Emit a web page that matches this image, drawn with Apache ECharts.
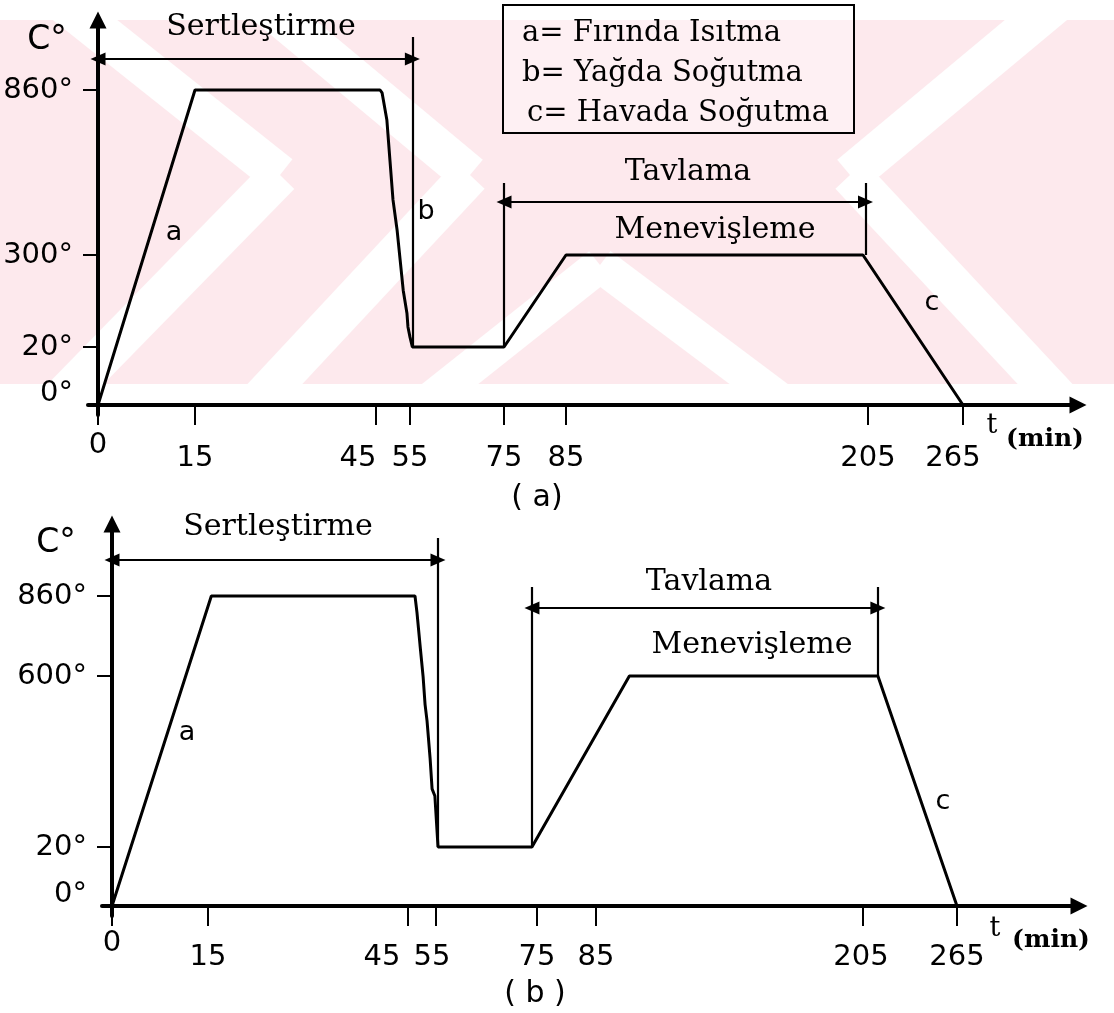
<!DOCTYPE html>
<html><head><meta charset="utf-8">
<script src="https://cdn.jsdelivr.net/npm/echarts@6/dist/echarts.min.js"></script>
<style>html,body{margin:0;padding:0;background:#fff}#c{width:1114px;height:1013px}</style>
</head><body><div id="c"></div>
<script>
// ---------------- DATA ----------------
const timeTicks = [0, 15, 45, 55, 75, 85, 205, 265];
const timeTickLabels = ['0', '15', '45', '55', '75', '85', '205', '265'];
const tempTicksA = [0, 20, 300, 860];
const tempTickLabelsA = ['0°', '20°', '300°', '860°'];
const tempTicksB = [0, 20, 600, 860];
const tempTickLabelsB = ['0°', '20°', '600°', '860°'];
// (a) hardening + low tempering
const timeA = [0, 15, 46.2, 46.8, 48.2, 49.1, 50, 51.2, 52.1, 53, 54.1, 54.4, 55, 55.5, 75, 85, 203, 265];
const tempA = [0, 860, 860, 850, 758, 622, 487, 385, 285, 193, 123, 81, 50, 20, 20, 300, 300, 0];
// (b) hardening + high tempering
const timeB = [0, 15.5, 47.5, 48.2, 49.3, 50.4, 51.1, 51.8, 52.9, 53.6, 54.6, 55.4, 74, 100, 214.5, 265];
const tempB = [0, 860, 860, 807, 700, 597, 503, 448, 320, 217, 193, 20, 20, 600, 600, 0];
// phase brackets (time from/to)
const hardenA = [0, 55.5], annealA = [75, 204];
const hardenB = [0, 55.4], annealB = [74, 214.5];
const legendLines = ['a= Fırında Isıtma', 'b= Yağda Soğutma', 'c= Havada Soğutma'];
const phaseNames = ['Sertleştirme', 'Tavlama', 'Menevişleme'];

// ---------------- LAYOUT (schematic, non-linear axes) ----------------
const L = {
  A: { left: 88, top: 20, xMax: 980, yMax: 385,
       xPos: [0, 97, 278, 312, 406, 468, 770, 865], yPos: [0, 58, 150, 315],
       xShift: [[0, 0], [0, 13], [18, 13], [0, 13], [0, 13], [0, 13], [0, 13], [10, 13]],
       xMargin: 16, bracketY: 346, markTop: 368, annTop: 222, annY: 203 },
  B: { left: 102, top: 524, xMax: 967, yMax: 382,
       xPos: [0, 96, 296, 324, 425, 484, 751, 845], yPos: [0, 59, 230, 310],
       xShift: [[0, 0], [0, 14], [26, 14], [4, 14], [0, 14], [0, 14], [2, 14], [0, 14]],
       xMargin: 13, bracketY: 346, markTop: 368, annTop: 319, annY: 298 }
};

function interp(v, ks, ps) {
  let i = 0;
  while (i < ks.length - 2 && v > ks[i + 1]) i++;
  return ps[i] + (v - ks[i]) / (ks[i + 1] - ks[i]) * (ps[i + 1] - ps[i]);
}

const FONT_SANS = 'DejaVu Sans';
const FONT_SERIF = 'DejaVu Serif';
const TICK_FS = 29;

function axes(idx, lay, yTicks, yLabels) {
  const richX = {};
  timeTickLabels.forEach((t, i) => {
    const s = lay.xShift[i];
    richX['k' + i] = { fontFamily: FONT_SANS, fontSize: TICK_FS, color: '#000',
      padding: [s[1], s[0] * 2, 0, 0] };
  });
  const xAxis = {
    type: 'value', gridIndex: idx, min: -10, max: lay.xMax,
    axisLine: { show: true, onZero: true, symbol: ['none', 'triangle'], symbolSize: [17, 17],
      lineStyle: { color: '#000', width: 4 } },
    axisTick: { show: true, customValues: lay.xPos, length: 20, lineStyle: { color: '#000', width: 2 } },
    axisLabel: { show: true, customValues: lay.xPos, margin: lay.xMargin,
      formatter: v => { const i = lay.xPos.indexOf(v); return i < 0 ? '' : '{k' + i + '|' + timeTickLabels[i] + '}'; },
      rich: richX },
    splitLine: { show: false }
  };
  const yAxis = {
    type: 'value', gridIndex: idx, min: -10, max: lay.yMax,
    axisLine: { show: true, onZero: true, symbol: ['none', 'triangle'], symbolSize: [17, 17],
      lineStyle: { color: '#000', width: 4 } },
    axisTick: { show: true, customValues: lay.yPos.slice(1), length: 15, lineStyle: { color: '#000', width: 2 } },
    axisLabel: { show: true, customValues: lay.yPos, margin: 15,
      formatter: v => { const i = lay.yPos.indexOf(v); return i < 0 ? '' : (i === 0 ? '{z|' + yLabels[0] + '}' : '{n|' + yLabels[i] + '}'); },
      rich: { z: { fontFamily: FONT_SANS, fontSize: TICK_FS, color: '#000', padding: [0, 0, 24, 0] },
              n: { fontFamily: FONT_SANS, fontSize: TICK_FS, color: '#000' } } },
    splitLine: { show: false }
  };
  return { xAxis, yAxis };
}

function build(idx, lay, times, temps, yTicks, yLabels, harden, anneal, plateauTemp) {
  const mx = t => interp(t, timeTicks, lay.xPos);
  const my = T => interp(T, yTicks, lay.yPos);
  const pts = times.map((t, i) => [mx(t), my(temps[i])]);
  const arrowEnd = { symbol: 'triangle', symbolSize: [13, 15] };
  const mlData = [
    [{ coord: [mx(harden[0]), lay.bracketY], ...arrowEnd }, { coord: [mx(harden[1]), lay.bracketY], ...arrowEnd }],
    [{ coord: [mx(anneal[0]), lay.annY], ...arrowEnd }, { coord: [mx(anneal[1]), lay.annY], ...arrowEnd }],
    [{ coord: [mx(harden[1]), my(20)] }, { coord: [mx(harden[1]), lay.markTop] }],
    [{ coord: [mx(anneal[0]), my(20)] }, { coord: [mx(anneal[0]), lay.annTop] }],
    [{ coord: [mx(anneal[1]), my(plateauTemp)] }, { coord: [mx(anneal[1]), lay.annTop] }]
  ];
  return {
    type: 'line', xAxisIndex: idx, yAxisIndex: idx, data: pts, symbol: 'none',
    lineStyle: { color: '#000', width: 3 }, silent: true, animation: false, z: 5,
    markLine: { silent: true, animation: false, symbol: ['none', 'none'], label: { show: false },
      lineStyle: { color: '#000', width: 2.2, type: 'solid' }, emphasis: { disabled: true }, data: mlData }
  };
}

const aA = axes(0, L.A, tempTicksA, tempTickLabelsA);
const aB = axes(1, L.B, tempTicksB, tempTickLabelsB);

function txt(text, x, y, font, align) {
  return { type: 'text', z: 20, style: { text, x, y, font, fill: '#000',
    align: align || 'center', verticalAlign: 'middle', textAlign: align || 'center', textVerticalAlign: 'middle' } };
}
const serif = s => s + 'px "' + FONT_SERIF + '"';
const sans = s => s + 'px "' + FONT_SANS + '"';

// watermark (decorative, light pink)
const PINK = '#fde9ed';
function stripe(x1, y1, x2, y2, w) {
  const dx = x2 - x1, dy = y2 - y1, len = Math.hypot(dx, dy);
  const nx = -dy / len * w / 2, ny = dx / len * w / 2;
  return { type: 'polygon', z: -10, silent: true,
    shape: { points: [[x1 + nx, y1 + ny], [x2 + nx, y2 + ny], [x2 - nx, y2 - ny], [x1 - nx, y1 - ny]] },
    style: { fill: '#fff' } };
}
const watermark = [
  { type: 'rect', z: -11, silent: true, shape: { x: 0, y: 20, width: 1114, height: 364 }, style: { fill: PINK } },
  stripe(60, 0, 280, 175, 40), stripe(280, 175, 60, 400, 40),
  stripe(260, 0, 470, 175, 40), stripe(470, 175, 260, 400, 40),
  stripe(1060, 0, 850, 175, 40), stripe(850, 175, 1060, 400, 40),
  stripe(430, 400, 600, 265, 35), stripe(600, 265, 780, 400, 35),
  { type: 'rect', z: -9, silent: true, shape: { x: 0, y: 384, width: 1114, height: 40 }, style: { fill: '#fff' } }
];

const graphics = watermark.concat([
  // chart (a)
  txt('C°', 47, 40, sans(33)),
  txt(phaseNames[0], 261, 27, serif(30)),
  txt(phaseNames[1], 688, 172, serif(30)),
  txt(phaseNames[2], 715, 230, serif(30)),
  txt('a', 174, 233, sans(27)),
  txt('b', 426, 212, sans(27)),
  txt('c', 932, 303, sans(27)),
  txt('t', 992, 426, serif(27)),
  txt('(min)', 1045, 439, 'bold ' + serif(25)),
  txt('( a)', 537, 498, sans(30)),
  { type: 'rect', z: 19, shape: { x: 503, y: 5, width: 351, height: 128 },
    style: { fill: 'rgba(255,255,255,0.35)', stroke: '#000', lineWidth: 2 } },
  txt(legendLines[0], 522, 33, serif(29), 'left'),
  txt(legendLines[1], 522, 73, serif(29), 'left'),
  txt(legendLines[2], 527, 113, serif(29), 'left'),
  // chart (b)
  txt('C°', 56, 543, sans(33)),
  txt(phaseNames[0], 278, 527, serif(30)),
  txt(phaseNames[1], 709, 582, serif(30)),
  txt(phaseNames[2], 752, 645, serif(30)),
  txt('a', 187, 733, sans(27)),
  txt('c', 943, 802, sans(27)),
  txt('t', 995, 929, serif(27)),
  txt('(min)', 1051, 940, 'bold ' + serif(25)),
  txt('( b )', 535, 994, sans(30))
]);

const chart = echarts.init(document.getElementById('c'), null, { renderer: 'canvas' });
chart.setOption({
  animation: false,
  backgroundColor: '#fff',
  grid: [
    { left: L.A.left, top: L.A.top, width: L.A.xMax + 10, height: L.A.yMax + 10, containLabel: false },
    { left: L.B.left, top: L.B.top, width: L.B.xMax + 10, height: L.B.yMax + 10, containLabel: false }
  ],
  xAxis: [aA.xAxis, aB.xAxis],
  yAxis: [aA.yAxis, aB.yAxis],
  series: [
    build(0, L.A, timeA, tempA, tempTicksA, tempTickLabelsA, hardenA, annealA, 300),
    build(1, L.B, timeB, tempB, tempTicksB, tempTickLabelsB, hardenB, annealB, 600)
  ],
  graphic: graphics
});
</script>
</body></html>
